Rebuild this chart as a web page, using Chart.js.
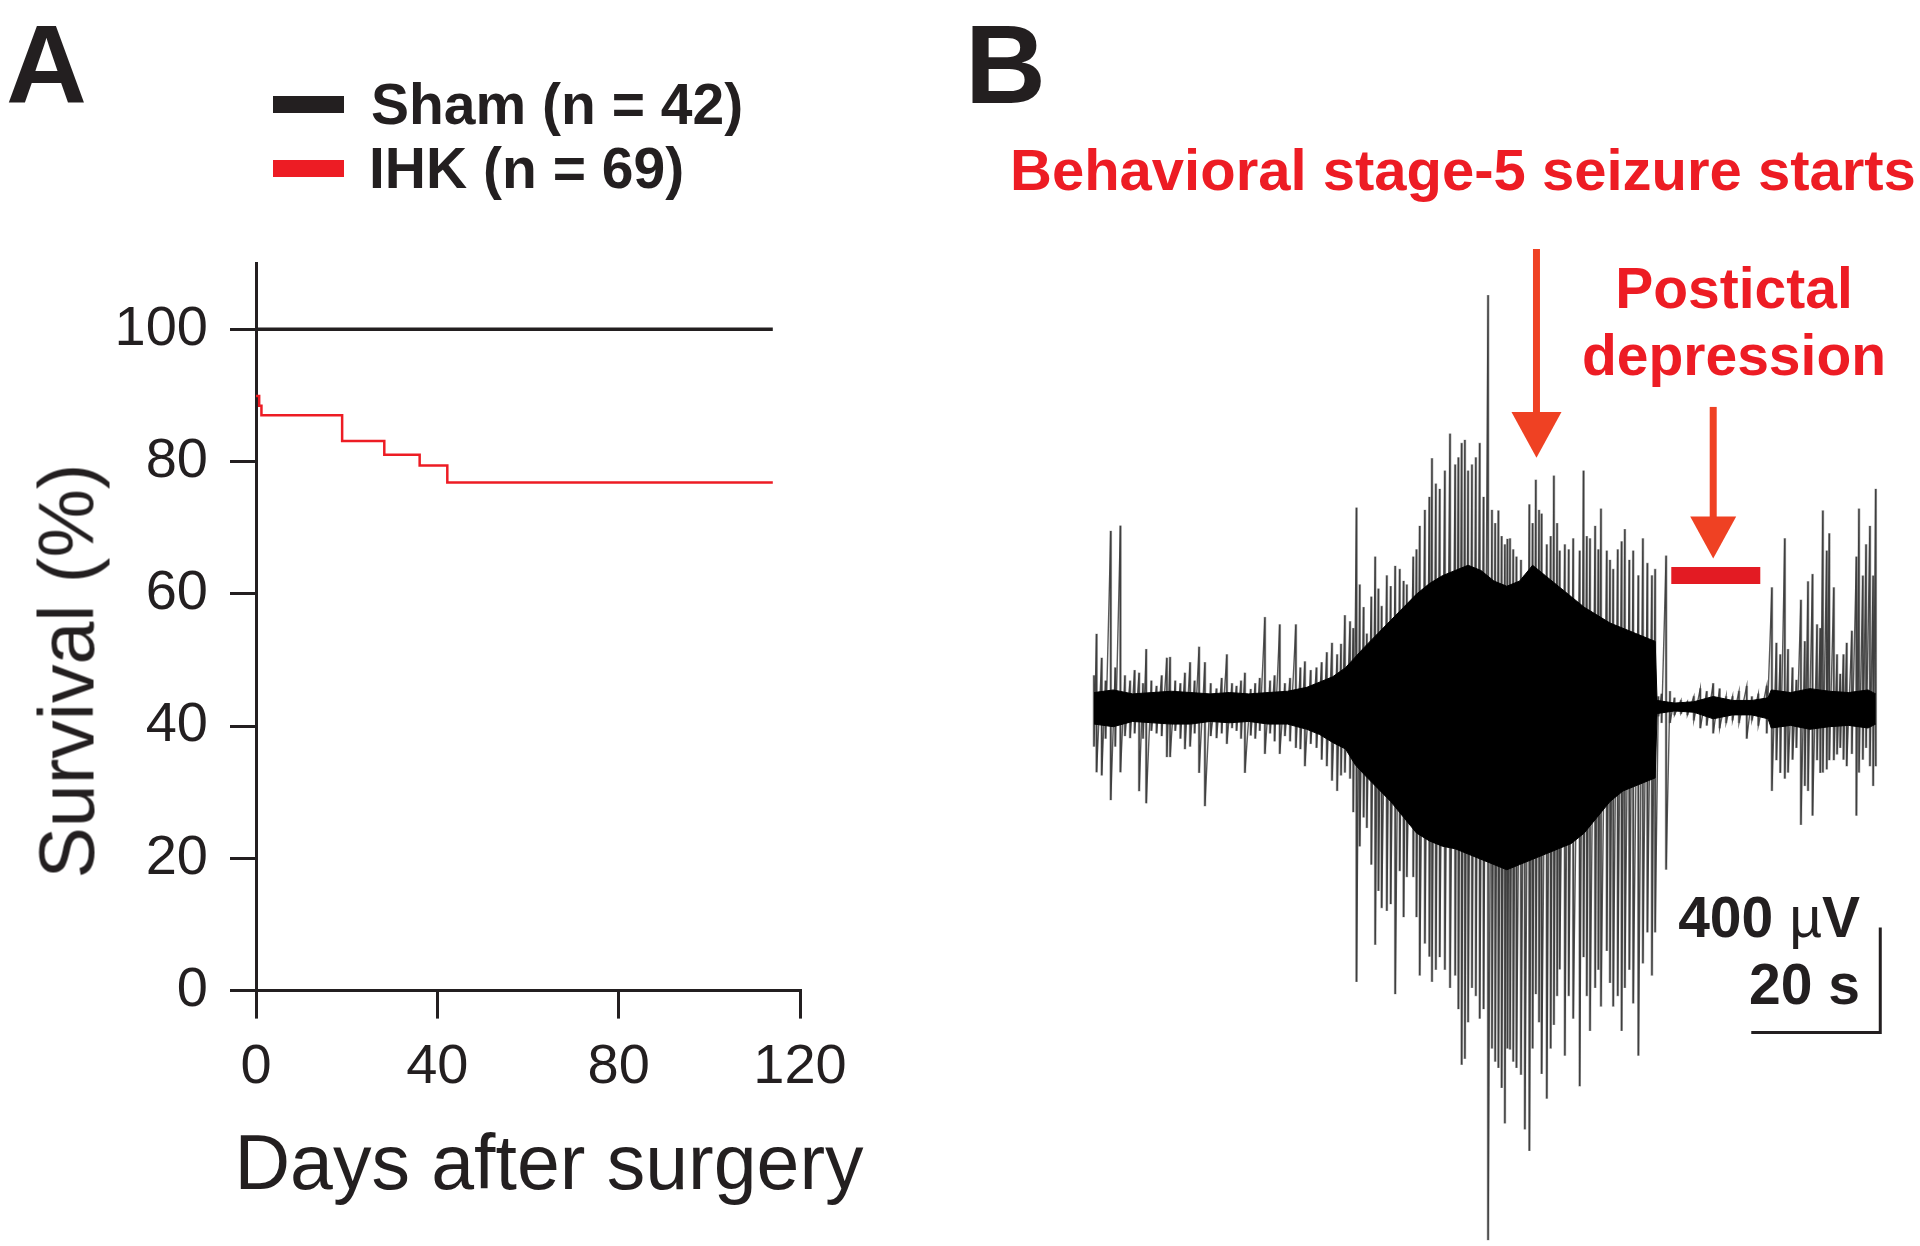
<!DOCTYPE html>
<html>
<head>
<meta charset="utf-8">
<script src="https://cdn.jsdelivr.net/npm/chart.js@4.4.1/dist/chart.umd.min.js"></script>
<style>
  html, body { margin: 0; padding: 0; background: #fff; }
  body { width: 1920px; height: 1246px; position: relative; overflow: hidden;
         font-family: "Liberation Sans", Arial, Helvetica, sans-serif; color: #231f20; }
  canvas { position: absolute; }
  #survival { left: 0; top: 0; }
  #eeg { left: 1060px; top: 0; }
  .txt { position: absolute; line-height: 1; white-space: nowrap; }
  .bold { font-weight: bold; }
  .red { color: #ed1c24; }
  .key { position: absolute; left: 273px; width: 71px; height: 17px; }
</style>
</head>
<body>
<canvas id="survival" width="900" height="1246"></canvas>
<canvas id="eeg" width="860" height="1246"></canvas>

<div class="txt bold" style="left:6px; top:9px; font-size:112px;">A</div>
<div class="txt bold" style="left:965px; top:9px; font-size:112px;">B</div>

<div class="key" style="top:96px; background:#231f20;"></div>
<div class="key" style="top:160px; background:#ed1c24;"></div>
<div class="txt bold" style="left:371px; top:76px; font-size:57px;">Sham (n = 42)</div>
<div class="txt bold" style="left:369px; top:140px; font-size:57px;">IHK (n = 69)</div>

<div class="txt" style="left:67px; top:671px; font-size:77px; transform: translate(-50%,-50%) rotate(-90deg);">Survival (%)</div>
<div class="txt" style="left:549px; top:1124px; font-size:77px; transform: translateX(-50%);">Days after surgery</div>

<div class="txt bold red" style="left:1010px; top:141px; font-size:58px;">Behavioral stage-5 seizure starts</div>
<div class="txt bold red" style="left:1734px; top:260px; font-size:57px; transform: translateX(-50%);">Postictal</div>
<div class="txt bold red" style="left:1734px; top:327px; font-size:57px; transform: translateX(-50%);">depression</div>

<div class="txt bold" style="right:60px; top:889px; font-size:57px;">400 <span style="font-weight:normal">µ</span>V</div>
<div class="txt bold" style="right:60px; top:956px; font-size:57px;">20 s</div>

<script>
// ---- Panel A: survival after surgery ----
const dayTicks = [0, 40, 80, 120];
const survivalTicks = [0, 20, 40, 60, 80, 100];
const shamDays = [0, 114];
const shamSurvival = [100, 100];
const ihkDays = [0, 0.7, 1.2, 19, 28.3, 36.1, 42.2, 114];
const ihkSurvival = [89.9, 88.4, 87.0, 83.1, 81.0, 79.4, 76.8, 76.8];

// ---- Panel B: EEG trace, envelope (s, µV) ----
const eegTime = [0.0, 0.4, 1.2, 1.8, 2.6, 3.3, 4.1, 4.8, 5.6, 6.3, 7.0, 7.6, 8.1, 8.9, 9.7, 10.5, 11.3, 11.8, 12.6, 13.4,
  14.1, 14.9, 15.6, 16.3, 17.2, 18.1, 19.0, 19.8, 20.6, 21.4, 22.1, 22.8, 23.4, 24.3, 25.0, 25.7, 26.5, 27.3, 28.0, 28.8,
  29.6, 30.4, 31.3, 32.0, 32.7, 33.6, 34.5, 35.3, 36.1, 36.9, 37.7, 38.3, 38.9, 39.7, 40.2, 40.7, 41.2, 41.8, 42.3, 43.0,
  43.6, 44.1, 44.6, 45.4, 46.0, 46.7, 47.4, 48.0, 48.5, 49.5, 50.0, 50.5, 51.3, 52.0, 52.4, 53.0, 53.6, 54.4, 55.2, 56.0,
  56.5, 57.0, 57.5, 58.0, 58.6, 59.2, 59.8, 60.4, 61.1, 61.7, 62.2, 62.7, 63.2, 63.7, 64.1, 64.5, 65.0, 65.5, 66.2, 66.8,
  67.5, 68.0, 68.5, 69.0, 69.4, 70.2, 70.8, 71.3, 71.8, 72.2, 73.0, 73.6, 74.3, 75.3, 75.9, 76.4, 76.9, 77.7, 78.2, 78.6,
  79.5, 80.0, 80.5, 81.2, 81.8, 82.3, 83.0, 83.6, 84.4, 85.1, 85.8, 86.5, 87.0, 87.5, 88.0, 88.7, 89.3, 90.0, 91.0, 92.0,
  93.0, 94.0, 95.0, 96.0, 97.0, 98.0, 99.0, 100.0, 101.2, 102.0, 103.0, 104.3, 105.1, 105.8, 106.4, 107.1, 107.6, 108.3, 108.9, 109.6,
  110.2, 110.7, 111.4, 112.1, 112.6, 113.0, 113.6, 114.0, 114.7, 115.2, 115.7, 116.2, 116.7, 117.5, 118.2, 118.6, 119.2, 119.7, 120.3, 120.8,
  121.2];
const eegHigh = [120, 278, 187, 100, 670, 150, 690, 120, 100, 140, 130, 90, 220, 100, 80, 120, 187, 190, 100, 90,
  130, 170, 100, 229, 170, 90, 70, 110, 200, 90, 80, 100, 130, 68, 90, 110, 342, 100, 120, 314,
  90, 110, 314, 150, 173, 140, 150, 170, 208, 244, 200, 240, 349, 326, 300, 759, 466, 380, 279, 420,
  572, 450, 384, 501, 460, 537, 525, 480, 466, 572, 600, 689, 750, 800, 947, 850, 830, 900, 1041, 923,
  950, 1005, 1017, 900, 923, 950, 1005, 800, 1568, 750, 700, 748, 650, 619, 640, 642, 600, 572, 560, 501,
  771, 700, 865, 750, 736, 619, 650, 881, 700, 595, 619, 600, 642, 595, 900, 650, 642, 689, 600, 755,
  595, 560, 525, 600, 630, 677, 560, 595, 501, 642, 548, 501, 525, 40, 50, 576, 60, 35, 25, 20,
  40, 70, 60, 90, 70, 40, 40, 60, 79, 40, 50, 80, 455, 244, 200, 642, 220, 150, 103, 408,
  250, 478, 506, 314, 300, 748, 595, 661, 455, 200, 126, 200, 244, 290, 572, 755, 500, 619, 689, 500,
  830];
const eegLow = [-150, -248, -260, -120, -354, -150, -248, -110, -118, -100, -320, -120, -366, -90, -100, -110, -190, -190, -90, -120,
  -160, -150, -100, -250, -377, -110, -118, -100, -140, -80, -90, -120, -250, -108, -120, -90, -178, -100, -130, -178,
  -110, -130, -155, -160, -225, -140, -155, -200, -225, -280, -319, -260, -249, -272, -400, -1046, -530, -420, -460, -600,
  -905, -700, -765, -776, -750, -1093, -624, -800, -647, -647, -800, -1022, -900, -950, -1046, -1000, -952, -1000, -1069, -1022,
  -1150, -1362, -1339, -1200, -1069, -1100, -1186, -1150, -2030, -1300, -1350, -1374, -1450, -1585, -1300, -1304, -1350, -1374, -1400, -1608,
  -1690, -1300, -1093, -1200, -1397, -1491, -1300, -1210, -1100, -999, -1327, -1100, -1186, -1444, -952, -1100, -1233, -1069, -1000, -1140,
  -928, -1050, -1140, -1100, -1233, -1069, -1000, -1128, -1327, -976, -858, -1022, -858, -35, -60, -619, -60, -30, -25, -30,
  -50, -80, -70, -100, -80, -60, -50, -60, -120, -50, -70, -100, -319, -202, -250, -272, -249, -200, -155, -448,
  -300, -319, -413, -202, -250, -249, -237, -202, -202, -180, -155, -200, -225, -178, -413, -249, -200, -155, -225, -300,
  -225];

// dense dark core of the trace
const coreTime = [0, 3, 6, 9, 12, 15, 18, 21, 24, 27, 30, 33, 35, 37, 39, 40.5, 42, 44, 46, 48,
  50, 52, 54, 56, 58, 60, 62, 64, 66, 68, 70, 72, 74, 76, 78, 80, 82, 84, 86, 87,
  87.3, 90, 93, 96, 99, 102, 104.5, 105, 108, 111, 114, 117, 120, 121.2];
const coreHigh = [55, 65, 50, 55, 60, 55, 50, 55, 50, 55, 60, 75, 95, 115, 150, 190, 230, 280, 330, 380,
  430, 470, 500, 520, 540, 520, 480, 460, 480, 540, 500, 460, 420, 380, 350, 320, 300, 280, 260, 250,
  25, 15, 20, 40, 25, 25, 35, 65, 55, 70, 60, 55, 65, 50];
const coreLow = [-65, -75, -55, -60, -65, -65, -55, -60, -55, -65, -65, -85, -105, -135, -160, -220, -260, -310, -360, -420,
  -480, -510, -530, -540, -560, -580, -600, -620, -600, -580, -560, -540, -520, -480, -420, -360, -320, -300, -280, -270,
  -25, -15, -20, -45, -30, -30, -45, -80, -70, -85, -75, -70, -80, -65];

// scale bar and annotations (data units)
const scaleBarTime = 121.9, scaleBarLevel = -1240, scaleBarSeconds = 20, scaleBarMicrovolts = 400;
const postictalStart = 89.5, postictalEnd = 103.3, postictalLevel = 501;
const arrows = [
  { t: 68.6, from: 1745, base: 1124, to: 949, half: 25 },  // seizure onset
  { t: 96.0, from: 1143, base: 726, to: 566, half: 23 }    // postictal
];

const pts = (xs, ys) => xs.map((x, i) => ({ x: x, y: ys[i] }));
const ink = '#231f20';
const tickFont = { family: "'Liberation Sans', Arial, sans-serif", size: 56 };

new Chart(document.getElementById('survival'), {
  type: 'line',
  data: {
    datasets: [
      { label: 'Sham (n = 42)', data: pts(shamDays, shamSurvival), borderColor: ink, borderWidth: 3.5,
        pointRadius: 0, stepped: true },
      { label: 'IHK (n = 69)', data: pts(ihkDays, ihkSurvival), borderColor: '#ed1c24', borderWidth: 2.5,
        pointRadius: 0, stepped: true }
    ]
  },
  options: {
    responsive: false,
    animation: false,
    layout: { padding: { left: 0, top: 263, right: 100, bottom: 0 } },
    plugins: { legend: { display: false }, tooltip: { enabled: false } },
    scales: {
      x: {
        type: 'linear', min: 0, max: 120, offset: false,
        afterBuildTicks: s => { s.ticks = dayTicks.map(v => ({ value: v })); },
        afterFit: s => { s.height = 255.4; },
        grid: { drawOnChartArea: false, tickLength: 28, lineWidth: 3, color: ink },
        border: { color: ink, width: 3 },
        ticks: { font: tickFont, color: ink, padding: 15, maxRotation: 0 }
      },
      y: {
        min: 0, max: 110,
        afterBuildTicks: s => { s.ticks = survivalTicks.map(v => ({ value: v })); },
        afterFit: s => { s.width = 256; },
        grid: { drawOnChartArea: false, tickLength: 26, lineWidth: 3, color: ink },
        border: { color: ink, width: 3 },
        ticks: { font: tickFont, color: ink, padding: 22 }
      }
    }
  }
});

const arrowPlugin = {
  id: 'arrows',
  afterDatasetsDraw(chart) {
    const { ctx, scales: { x, y } } = chart;
    ctx.save();
    ctx.fillStyle = '#ef4123';
    ctx.strokeStyle = '#ef4123';
    ctx.lineWidth = 7;
    arrows.forEach(a => {
      const px = x.getPixelForValue(a.t);
      const top = y.getPixelForValue(a.from);
      const base = y.getPixelForValue(a.base);
      const tip = y.getPixelForValue(a.to);
      ctx.beginPath();
      ctx.moveTo(px, top);
      ctx.lineTo(px, base + 2);
      ctx.stroke();
      ctx.beginPath();
      ctx.moveTo(px - a.half, base);
      ctx.lineTo(px + a.half, base);
      ctx.lineTo(px, tip);
      ctx.closePath();
      ctx.fill();
    });
    ctx.restore();
  }
};

// trace drawn as a sawtooth through each sample's peak and trough
const tracePts = [];
eegTime.forEach((t, i) => {
  tracePts.push({ x: t, y: eegHigh[i] });
  tracePts.push({ x: t, y: eegLow[i] });
});

new Chart(document.getElementById('eeg'), {
  type: 'line',
  data: {
    datasets: [
      { data: pts(coreTime, coreHigh), borderColor: '#000', borderWidth: 1, backgroundColor: '#000',
        fill: '+1', pointRadius: 0, order: 1 },
      { data: pts(coreTime, coreLow), borderColor: '#000', borderWidth: 1, fill: false, pointRadius: 0, order: 1 },
      { type: 'bar', data: eegTime.map((t, i) => ({ x: t, y: [eegLow[i], eegHigh[i]] })),
        backgroundColor: 'rgba(110,110,110,0.6)', barThickness: 2, order: 3 },
      { data: tracePts, borderColor: 'rgba(20,20,20,0.7)', borderWidth: 1.4, pointRadius: 0, fill: false, order: 2 },
      { data: [{ x: scaleBarTime - scaleBarSeconds, y: scaleBarLevel }, { x: scaleBarTime, y: scaleBarLevel },
               { x: scaleBarTime, y: scaleBarLevel + scaleBarMicrovolts }],
        borderColor: ink, borderWidth: 3, pointRadius: 0, fill: false, order: 0 },
      { data: [{ x: postictalStart, y: postictalLevel }, { x: postictalEnd, y: postictalLevel }],
        borderColor: '#e31b23', borderWidth: 17, borderCapStyle: 'butt', pointRadius: 0, fill: false, order: 0 }
    ]
  },
  options: {
    responsive: false,
    animation: false,
    layout: { padding: 0 },
    plugins: { legend: { display: false }, tooltip: { enabled: false } },
    scales: {
      x: { type: 'linear', display: false, min: -5.27, max: 128.06, offset: false },
      y: { display: false, min: -2053, max: 2693 }
    }
  },
  plugins: [arrowPlugin]
});
</script>
</body>
</html>
